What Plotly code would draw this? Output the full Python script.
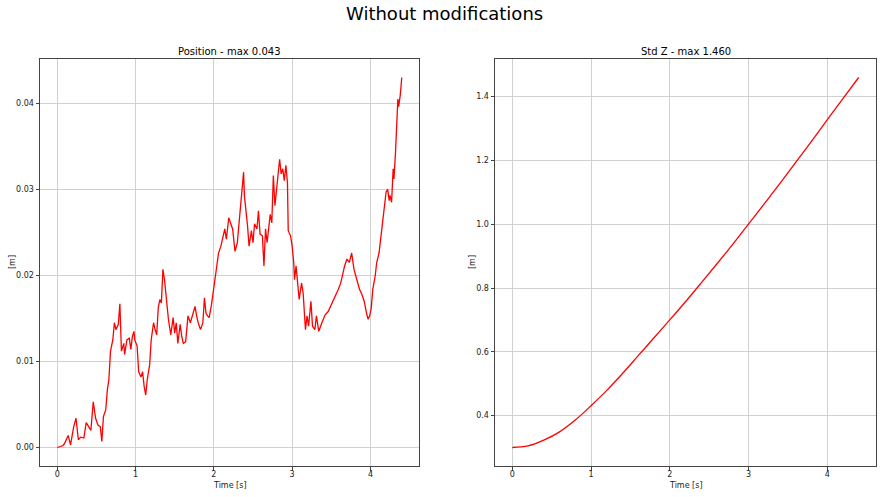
import plotly.graph_objects as go

# ---- Data ----
pos_time = [0.00, 0.07, 0.09, 0.14, 0.17, 0.21, 0.24, 0.27, 0.30, 0.34, 0.37, 0.40, 0.43, 0.46, 0.49,
            0.52, 0.55, 0.57, 0.59, 0.62, 0.64, 0.66, 0.68, 0.71, 0.73, 0.75, 0.78, 0.80, 0.82, 0.85,
            0.86, 0.89, 0.92, 0.94, 0.96, 0.98, 0.99, 1.02, 1.04, 1.07, 1.09, 1.11, 1.13, 1.15, 1.18,
            1.20, 1.23, 1.25, 1.27, 1.29, 1.31, 1.33, 1.35, 1.37, 1.40, 1.42, 1.45, 1.48, 1.50, 1.52,
            1.54, 1.57, 1.59, 1.61, 1.64, 1.67, 1.70, 1.73, 1.76, 1.78, 1.80, 1.83, 1.86, 1.88, 1.90,
            1.92, 1.94, 1.97, 1.99, 2.02, 2.06, 2.09, 2.14, 2.16, 2.19, 2.22, 2.24, 2.27, 2.30, 2.33,
            2.36, 2.38, 2.39, 2.42, 2.43, 2.45, 2.48, 2.50, 2.52, 2.55, 2.57, 2.59, 2.62, 2.64, 2.66,
            2.68, 2.70, 2.72, 2.74, 2.76, 2.78, 2.81, 2.83, 2.84, 2.86, 2.88, 2.90, 2.92, 2.94, 2.95,
            2.98, 3.00, 3.02, 3.03, 3.05, 3.07, 3.09, 3.12, 3.14, 3.17, 3.19, 3.21, 3.24, 3.26, 3.29,
            3.31, 3.34, 3.38, 3.42, 3.46, 3.50, 3.55, 3.59, 3.62, 3.64, 3.67, 3.70, 3.73, 3.76, 3.79,
            3.82, 3.86, 3.89, 3.92, 3.95, 3.97, 3.99, 4.01, 4.03, 4.06, 4.08, 4.11, 4.14, 4.16, 4.18,
            4.20, 4.22, 4.24, 4.25, 4.27, 4.29, 4.30, 4.32, 4.33, 4.35, 4.36, 4.38, 4.40]
pos_value = [0.0000, 0.0002, 0.0004, 0.0014, 0.0003, 0.0024, 0.0034, 0.0009, 0.0012, 0.0011, 0.0029,
             0.0024, 0.0020, 0.0053, 0.0034, 0.0026, 0.0024, 0.0007, 0.0036, 0.0044, 0.0067, 0.0079,
             0.0112, 0.0125, 0.0145, 0.0137, 0.0143, 0.0167, 0.0112, 0.0121, 0.0108, 0.0125, 0.0127,
             0.0114, 0.0129, 0.0135, 0.0125, 0.0118, 0.0088, 0.0082, 0.0088, 0.0071, 0.0061, 0.0079,
             0.0096, 0.0125, 0.0145, 0.0137, 0.0131, 0.0162, 0.0172, 0.0168, 0.0207, 0.0195, 0.0164,
             0.0149, 0.0131, 0.0151, 0.0133, 0.0145, 0.0121, 0.0143, 0.0129, 0.0121, 0.0123, 0.0153,
             0.0145, 0.0156, 0.0164, 0.0153, 0.0145, 0.0137, 0.0145, 0.0174, 0.0156, 0.0153, 0.0151,
             0.0166, 0.0182, 0.0199, 0.0226, 0.0234, 0.0254, 0.0242, 0.0267, 0.0260, 0.0254, 0.0228,
             0.0238, 0.0269, 0.0300, 0.0320, 0.0293, 0.0271, 0.0258, 0.0234, 0.0252, 0.0238, 0.0260,
             0.0254, 0.0275, 0.0248, 0.0246, 0.0211, 0.0254, 0.0238, 0.0254, 0.0271, 0.0261, 0.0316,
             0.0281, 0.0307, 0.0320, 0.0335, 0.0318, 0.0324, 0.0310, 0.0328, 0.0308, 0.0252, 0.0246,
             0.0234, 0.0215, 0.0195, 0.0211, 0.0195, 0.0172, 0.0191, 0.0180, 0.0137, 0.0153, 0.0141,
             0.0170, 0.0141, 0.0137, 0.0153, 0.0135, 0.0145, 0.0154, 0.0158, 0.0166, 0.0174, 0.0184,
             0.0191, 0.0199, 0.0211, 0.0219, 0.0215, 0.0226, 0.0207, 0.0197, 0.0184, 0.0178, 0.0170,
             0.0156, 0.0149, 0.0153, 0.0162, 0.0184, 0.0199, 0.0215, 0.0226, 0.0250, 0.0265, 0.0283,
             0.0297, 0.0300, 0.0287, 0.0293, 0.0285, 0.0324, 0.0312, 0.0343, 0.0367, 0.0405, 0.0396,
             0.0409, 0.0430]

std_time = [0.0, 0.2, 0.4, 0.6, 0.8, 1.0, 1.2, 1.4, 1.6, 1.8, 2.0, 2.2, 2.4, 2.6, 2.8, 3.0,
            3.2, 3.4, 3.6, 3.8, 4.0, 4.2, 4.4]
std_value = [0.300, 0.305, 0.323, 0.349, 0.386, 0.431, 0.479, 0.532, 0.588, 0.644, 0.700, 0.757,
             0.816, 0.876, 0.937, 1.000, 1.064, 1.128, 1.194, 1.260, 1.327, 1.394, 1.460]

x_ticks = [0, 1, 2, 3, 4]
pos_ticks = [0.00, 0.01, 0.02, 0.03, 0.04]
std_ticks = [0.4, 0.6, 0.8, 1.0, 1.2, 1.4]

FONT = "DejaVu Sans"
W, H = 888, 497

def px_x(v):
    return v / W

def px_y(v):
    return 1 - v / H

fig = go.Figure()
fig.add_trace(go.Scatter(x=pos_time, y=pos_value, mode="lines",
                         line=dict(color="red", width=1.3), xaxis="x", yaxis="y",
                         showlegend=False, hoverinfo="skip"))
fig.add_trace(go.Scatter(x=std_time, y=std_value, mode="lines", line_shape="spline",
                         line=dict(color="red", width=1.3), xaxis="x2", yaxis="y2",
                         showlegend=False, hoverinfo="skip"))

axis_common = dict(
    showline=True, linecolor="#444444", linewidth=1, mirror=True,
    showgrid=True, gridcolor="#d0d0d0", gridwidth=1,
    ticks="outside", ticklen=3.5, tickwidth=1, tickcolor="#444444",
    tickfont=dict(family=FONT, size=8, color="#222222"),
    zeroline=False,
)

pmin, pmax = 0.0, 0.043
smin, smax = 0.300, 1.460
tmin, tmax = 0.0, 4.40

def ann(text, x, y, size, angle=0, color="black"):
    return dict(text=text, x=px_x(x), y=px_y(y), xref="paper", yref="paper",
                showarrow=False, xanchor="center", yanchor="middle", textangle=angle,
                font=dict(family=FONT, size=size, color=color))

fig.update_layout(
    width=W, height=H,
    margin=dict(l=0, r=0, t=0, b=0),
    paper_bgcolor="white", plot_bgcolor="white",
    font=dict(family=FONT, color="#222222"),
    xaxis=dict(axis_common, domain=[px_x(40), px_x(419)], anchor="y",
               range=[tmin - 0.05 * (tmax - tmin), tmax + 0.05 * (tmax - tmin)],
               tickvals=x_ticks, ticktext=[str(t) for t in x_ticks], ticklabelstandoff=-3),
    yaxis=dict(axis_common, domain=[px_y(466), px_y(59)], anchor="x",
               range=[pmin - 0.05 * (pmax - pmin), pmax + 0.05 * (pmax - pmin)],
               tickvals=pos_ticks, ticktext=[f"{v:.2f}" for v in pos_ticks]),
    xaxis2=dict(axis_common, domain=[px_x(495), px_x(876)], anchor="y2",
                range=[tmin - 0.05 * (tmax - tmin), tmax + 0.05 * (tmax - tmin)],
                tickvals=x_ticks, ticktext=[str(t) for t in x_ticks], ticklabelstandoff=-3),
    yaxis2=dict(axis_common, domain=[px_y(466), px_y(59)], anchor="x2",
                range=[smin - 0.05 * (smax - smin), smax + 0.05 * (smax - smin)],
                tickvals=std_ticks, ticktext=[f"{v:.1f}" for v in std_ticks]),
    annotations=[
        ann("Without modifications", 444, 14, 18),
        ann("Position - max 0.043", 229.5, 51, 10),
        ann("Std Z - max 1.460", 685.5, 51, 10),
        ann("Time [s]", 229.5, 485, 8, color="#222222"),
        ann("Time [s]", 685.5, 485, 8, color="#222222"),
        ann("[m]", 12, 262, 8, angle=-90, color="#222222"),
        ann("[m]", 472, 262, 8, angle=-90, color="#222222"),
    ],
)

fig.write_html("out.html", config={"displayModeBar": False},
               post_script="document.body.style.margin='0';document.body.style.padding='0';")
